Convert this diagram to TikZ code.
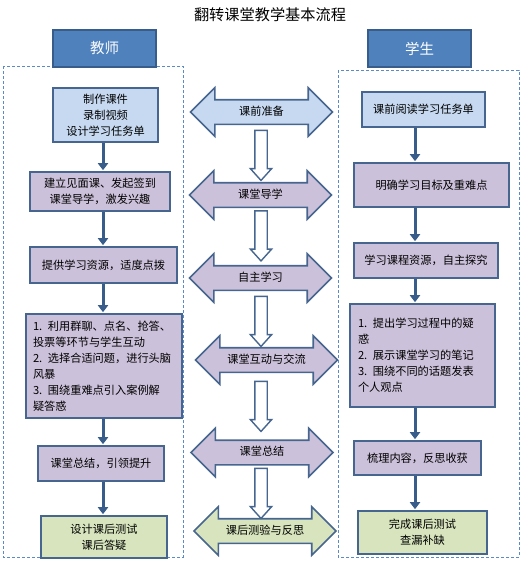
\documentclass[tikz,border=0pt]{standalone}
\usepackage{fontspec}
\setmainfont{Noto Sans CJK SC}
\usepackage{xcolor}
\usepackage{tikz}
\usetikzlibrary{arrows.meta}
\usetikzlibrary{shapes.arrows}
\definecolor{headblue}{HTML}{4F81BD}
\definecolor{headline}{HTML}{385D8A}
\definecolor{boxline}{HTML}{46668F}
\definecolor{prepfill}{HTML}{C6D9F1}
\definecolor{classfill}{HTML}{CCC1DA}
\definecolor{afterfill}{HTML}{D7E4BD}
\definecolor{lanecolor}{HTML}{5B8BC6}
\newcommand{\linkcolor}{headline}

\begin{document}
\begin{tikzpicture}[x=1pt, y=-1pt,
		font=\fontsize{11.2}{16}\selectfont,
		head/.style={draw=headline, fill=headblue, line width=1.4pt, minimum width=103pt, minimum height=37pt, text=white, font=\fontsize{14.5}{16}\selectfont},
		card/.style={draw=boxline, line width=1.6pt, align=center, inner sep=0pt},
		listcard/.style={draw=boxline, line width=1.6pt, align=left, inner ysep=0pt},
		stage/.style={double arrow, draw=boxline, line width=1.6pt, minimum height=142pt, minimum width=47pt, double arrow head extend=12pt, double arrow tip angle=90, text height=7.5pt, text depth=1.5pt, inner ysep=7pt, inner xsep=2pt},
		down/.style={single arrow, shape border rotate=270, draw=boxline, fill=white, line width=1.4pt, minimum height=50pt, minimum width=20pt, single arrow head extend=4.5pt, single arrow tip angle=84, inner sep=5.5pt},
		link/.style={draw=\linkcolor, line width=3pt, -{Triangle[length=7pt, width=10pt]}, shorten >=1pt},
		lane/.style={draw=lanecolor, line width=0.7pt, dash pattern=on 3pt off 2pt}]
	\useasboundingbox (0,0) rectangle (526,562);
	\node (title) at (270,15) {\fontsize{15.2}{16}\selectfont 翻转课堂教学基本流程};
	
	\draw [lane] (3,66) rectangle (183,557);
	\draw [lane] (338,70) rectangle (519,557);
	\node [head] (teacher) at (104.5,48.5) {教师};
	\node [head] (student) at (419.5,48.5) {学生};
	
	% teacher side
	\node [card, fill=prepfill, minimum width=105pt, minimum height=54pt] (make) at (105.5,115) {制作课件\\录制视频\\设计学习任务单};
	\node [card, fill=classfill, minimum width=140pt, minimum height=39pt] (intro) at (100,191.5) {建立见面课、发起签到\\课堂导学，激发兴趣};
	\node [card, fill=classfill, minimum width=147pt, minimum height=36pt] (offer) at (103.5,265) {提供学习资源，适度点拨};
	\node [listcard, fill=classfill, text width=142pt, inner xsep=7pt, minimum height=104pt] (interact) at (104,366) {1. 利用群聊、点名、抢答、\\投票等环节与学生互动\\2. 选择合适问题，进行头脑\\风暴\\3. 围绕重难点引入案例解\\疑答惑};
	\node [card, fill=classfill, minimum width=126pt, minimum height=35pt] (summary) at (101,463.5) {课堂总结，引领提升};
	\node [card, fill=afterfill, minimum width=126pt, minimum height=42pt] (homework) at (104,537) {设计课后测试\\课后答疑};
	
	% student side
	\node [card, fill=prepfill, minimum width=123pt, minimum height=35pt] (read) at (423.5,109.5) {课前阅读学习任务单};
	\node [card, fill=classfill, minimum width=155pt, minimum height=44pt] (goal) at (431.5,185) {明确学习目标及重难点};
	\node [card, fill=classfill, minimum width=144pt, minimum height=35pt] (explore) at (426,260.5) {学习课程资源，自主探究};
	\node [listcard, fill=classfill, text width=129pt, inner xsep=8pt, minimum height=103pt] (raise) at (422.5,355.5) {1. 提出学习过程中的疑\\惑\\2. 展示课堂学习的笔记\\3. 围绕不同的话题发表\\个人观点};
	\node [card, fill=classfill, minimum width=127pt, minimum height=34pt] (reflect) at (417.5,458) {梳理内容，反思收获};
	\node [card, fill=afterfill, minimum width=129pt, minimum height=43pt] (check) at (422.5,532.5) {完成课后测试\\查漏补缺};
	
	% stages in the middle
	\node [stage, fill=prepfill] (sPrep) at (261.5,112) {课前准备};
	\node [stage, fill=classfill] (sGuide) at (260.5,195) {课堂导学};
	\node [stage, fill=classfill] (sSelf) at (260.5,278) {自主学习};
	\node [stage, fill=classfill] (sTalk) at (266.5,360) {课堂互动与交流};
	\node [stage, fill=classfill] (sSum) at (262,452.5) {课堂总结};
	\node [stage, fill=afterfill] (sTest) at (265,531) {课后测验与反思};
	\node [down] (d1) at (261,152) {};
	\node [down] (d2) at (261,232.5) {};
	\node [down] (d3) at (261,318) {};
	\node [down] (d4) at (261,403) {};
	\node [down] (d5) at (261,490) {};
	
	\coordinate (lx) at (103,0);
	\coordinate (rx) at (415,0);
	\draw [link] (make.south -| lx) -- (intro.north -| lx);
	\draw [link] (intro.south -| lx) -- (offer.north -| lx);
	\draw [link] (offer.south -| lx) -- (interact.north -| lx);
	\draw [link] (interact.south -| lx) -- (summary.north -| lx);
	\draw [link] (summary.south -| lx) -- (homework.north -| lx);
	\draw [link] (read.south -| rx) -- (goal.north -| rx);
	\draw [link] (goal.south -| rx) -- (explore.north -| rx);
	\draw [link] (explore.south -| rx) -- (raise.north -| rx);
	\draw [link] (raise.south -| rx) -- (reflect.north -| rx);
	\draw [link] (reflect.south -| rx) -- (check.north -| rx);
\end{tikzpicture}
\end{document}
